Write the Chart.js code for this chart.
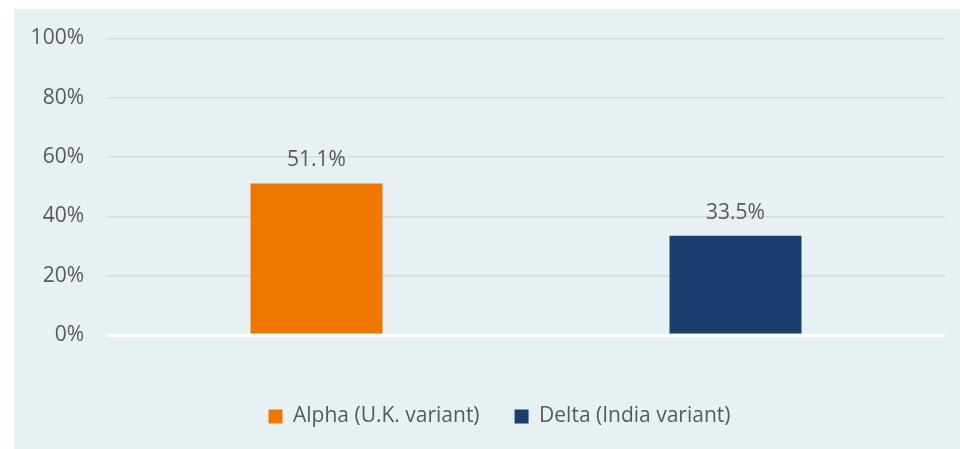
<!DOCTYPE html>
<html>
<head>
<meta charset="utf-8">
<script src="https://cdn.jsdelivr.net/npm/chart.js@4"></script>
<style>
  html, body { margin: 0; padding: 0; background: #ffffff; }
  #wrap { position: absolute; left: 14px; top: 9px; width: 946px; height: 440px; background: #e7f0f3; }
</style>
</head>
<body>
<div id="wrap"><canvas id="variantChart"></canvas></div>
<script>
// данные с картинки
const categories = ['Alpha (U.K. variant)', 'Delta (India variant)'];
const alphaValues = [51.1, null];
const deltaValues = [null, 33.5];
const yTicks = [0, 20, 40, 60, 80, 100];

const textColor = '#595959';
const fontFamily = '"Open Sans", sans-serif';

// подписи над столбцами
const barLabels = {
    id: 'barLabels',
    afterDatasetsDraw(chart) {
        const ctx = chart.ctx;
        ctx.save();
        ctx.fillStyle = textColor;
        ctx.font = '21px ' + fontFamily;
        ctx.textAlign = 'center';
        ctx.textBaseline = 'middle';
        chart.data.datasets.forEach((ds, i) => {
            chart.getDatasetMeta(i).data.forEach((bar, j) => {
                if (ds.data[j] == null) return;
                ctx.fillText(ds.data[j].toFixed(1) + '%', bar.x, bar.y - 23);
            });
        });
        ctx.restore();
    }
};

// легенда в оригинале чуть правее центра
const legendShift = {
    id: 'legendShift',
    afterLayout(chart) {
        chart.legend.left += 20;
        chart.legend.right += 20;
    }
};

const ctx = document.getElementById('variantChart').getContext('2d');
const chart = new Chart(ctx, {
    type: 'bar',
    data: {
        labels: categories,
        datasets: [{
            label: categories[0],
            data: alphaValues,
            backgroundColor: '#ee7700'
        }, {
            label: categories[1],
            data: deltaValues,
            backgroundColor: '#1a3f6f'
        }]
    },
    plugins: [barLabels, legendShift],
    options: {
        responsive: true,
        maintainAspectRatio: false,
        animation: false,
        skipNull: true,
        barPercentage: 0.315,
        categoryPercentage: 1,
        layout: { padding: { top: 29.5, right: 15, bottom: 12, left: 0 } },
        plugins: {
            tooltip: { enabled: false },
            legend: {
                position: 'bottom',
                labels: {
                    color: textColor,
                    font: { family: fontFamily, size: 21 },
                    boxWidth: 14,
                    boxHeight: 14,
                    padding: 35
                }
            }
        },
        scales: {
            x: {
                ticks: { display: false },
                grid: { display: false },
                border: { display: false },
                afterFit: (scale) => { scale.height = 36; }
            },
            y: {
                min: 0,
                max: 100,
                afterBuildTicks: (scale) => { scale.ticks = yTicks.map(v => ({ value: v })); },
                afterFit: (scale) => {
                    scale.width = 93;
                    scale.paddingTop = 0;
                    scale.paddingBottom = 0;
                },
                ticks: {
                    color: textColor,
                    font: { family: fontFamily, size: 21 },
                    padding: 23,
                    callback: (v) => v + '%'
                },
                grid: {
                    drawTicks: false,
                    color: (c) => c.tick && c.tick.value === 0 ? '#ffffff' : '#d9d9d9',
                    lineWidth: (c) => c.tick && c.tick.value === 0 ? 3 : 1.5
                },
                border: { display: false }
            }
        }
    }
});
</script>
</body>
</html>
